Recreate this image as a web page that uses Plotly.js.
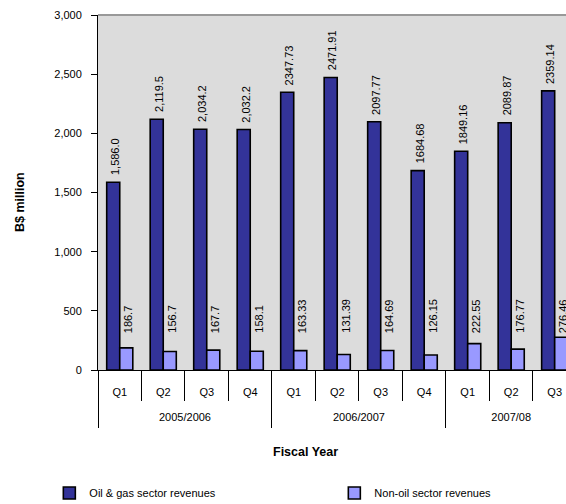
<!DOCTYPE html>
<html>
<head>
<meta charset="utf-8">
<script src="https://cdn.plot.ly/plotly-3.0.1.min.js"></script>
<style>
html,body{margin:0;padding:0;background:#fff;overflow:hidden;}
#chart{width:566px;height:504px;}
</style>
</head>
<body>
<div id="chart"></div>
<script>
// ---- data ----
const years = ["2005/2006","2005/2006","2005/2006","2005/2006",
               "2006/2007","2006/2007","2006/2007","2006/2007",
               "2007/08","2007/08","2007/08"];
const quarters = ["Q1","Q2","Q3","Q4","Q1","Q2","Q3","Q4","Q1","Q2","Q3"];
const oilGas = [1586.0, 2119.5, 2034.2, 2032.2, 2347.73, 2471.91, 2097.77, 1684.68, 1849.16, 2089.87, 2359.14];
const nonOil = [186.7, 156.7, 167.7, 158.1, 163.33, 131.39, 164.69, 126.15, 222.55, 176.77, 276.46];
const oilLabels = ["1,586.0","2,119.5","2,034.2","2,032.2","2347.73","2471.91","2097.77","1684.68","1849.16","2089.87","2359.14"];
const nonOilLabels = ["186.7","156.7","167.7","158.1","163.33","131.39","164.69","126.15","222.55","176.77","276.46"];
const seriesNames = ["Oil & gas sector revenues","Non-oil sector revenues"];
const yTicks = [0,500,1000,1500,2000,2500,3000];

const FONT = "Liberation Sans, Arial, sans-serif";

// category positions (index along the axis) and derived group info
const pos = quarters.map((_, i) => i);
const qBounds = [-0.5].concat(pos.map(i => i + 0.5));
const yearNames = [...new Set(years)];
const yearCenters = yearNames.map(y => {
  const idx = pos.filter(i => years[i] === y);
  return (idx[0] + idx[idx.length - 1]) / 2;
});
const yearBounds = [-0.5].concat(yearNames.map(y => {
  const idx = pos.filter(i => years[i] === y);
  return idx[idx.length - 1] + 0.5;
}));

const traces = [
  {type:"bar", name:seriesNames[0], x:pos, y:oilGas, legendwidth:240,
   marker:{color:"#333399", line:{color:"#000", width:1.6}}},
  {type:"bar", name:seriesNames[1], x:pos, y:nonOil,
   marker:{color:"#9999FF", line:{color:"#000", width:1.6}}},
  // carrier for the fiscal-year axis (no visible marks)
  {type:"scatter", mode:"markers", x:yearCenters, y:yearCenters.map(()=>0), xaxis:"x2", yaxis:"y",
   marker:{opacity:0, size:1}, showlegend:false, hoverinfo:"skip"}
];

const annotations = [];
oilGas.forEach((v,i)=>{
  annotations.push({xref:"x", yref:"y", x:pos[i]-0.15, y:v, text:oilLabels[i],
    textangle:-90, showarrow:false, xanchor:"center", yanchor:"bottom", yshift:5, xshift:2,
    font:{family:FONT,size:11,color:"#000"}});
});
nonOil.forEach((v,i)=>{
  annotations.push({xref:"x", yref:"y", x:pos[i]+0.15, y:296, text:nonOilLabels[i],
    textangle:-90, showarrow:false, xanchor:"center", yanchor:"bottom", xshift:2,
    font:{family:FONT,size:11,color:"#000"}});
});
annotations.push({xref:"paper", yref:"paper", x:(305-98)/468, y:(370-452)/355, text:"<b>Fiscal Year</b>",
  xanchor:"center", yanchor:"middle",
  showarrow:false, font:{family:FONT,size:12.5,color:"#000"}});
annotations.push({xref:"paper", yref:"paper", x:(20-98)/468, y:(370-202)/355, text:"<b>B$ million</b>",
  xanchor:"center", yanchor:"middle",
  textangle:-90, showarrow:false, font:{family:FONT,size:12.5,color:"#000"}});

const xr = [-0.5, 10.26];

const layout = {
  width:566, height:504,
  margin:{l:98, r:0, t:15, b:134, pad:0, autoexpand:false},
  paper_bgcolor:"#fff", plot_bgcolor:"#DCDCDC",
  font:{family:FONT, size:11, color:"#000"},
  barmode:"group", bargap:0.4, bargroupgap:0,
  showlegend:true,
  legend:{orientation:"h", x:-0.104, y:(370-493)/355, xanchor:"left", yanchor:"middle",
    font:{family:FONT,size:11,color:"#000"},
    bgcolor:"rgba(0,0,0,0)", traceorder:"normal"},
  xaxis:{type:"linear", range:xr, automargin:false, showline:true, linecolor:"#000", linewidth:1,
    tickvals:pos, ticktext:quarters, ticks:"",
    minor:{tickvals:qBounds, ticks:"outside", ticklen:30, tickcolor:"#000", tickwidth:1, showgrid:false},
    showgrid:false, zeroline:false, ticklabelstandoff:12,
    tickfont:{family:FONT,size:11,color:"#000"}},
  xaxis2:{type:"linear", range:xr, overlaying:"x", anchor:"y", side:"bottom", automargin:false,
    showline:false, tickvals:yearCenters, ticktext:yearNames, ticks:"",
    minor:{tickvals:yearBounds, ticks:"outside", ticklen:57, tickcolor:"#000", tickwidth:1, showgrid:false},
    showgrid:false, zeroline:false, ticklabelstandoff:39,
    tickfont:{family:FONT,size:11,color:"#000"}},
  yaxis:{range:[0,3000], automargin:false, tickvals:yTicks, tickformat:",", showline:true, linecolor:"#000", linewidth:1,
    ticks:"outside", ticklen:6, tickcolor:"#000", showgrid:false, zeroline:false,
    ticklabelstandoff:7, tickfont:{family:FONT,size:11,color:"#000"}},
  shapes:[{type:"line", xref:"paper", yref:"paper", x0:0, x1:1, y0:1, y1:1,
    line:{color:"#999", width:2}}],
  annotations:annotations
};

Plotly.newPlot("chart", traces, layout, {displayModeBar:false, staticPlot:true});
</script>
</body>
</html>
